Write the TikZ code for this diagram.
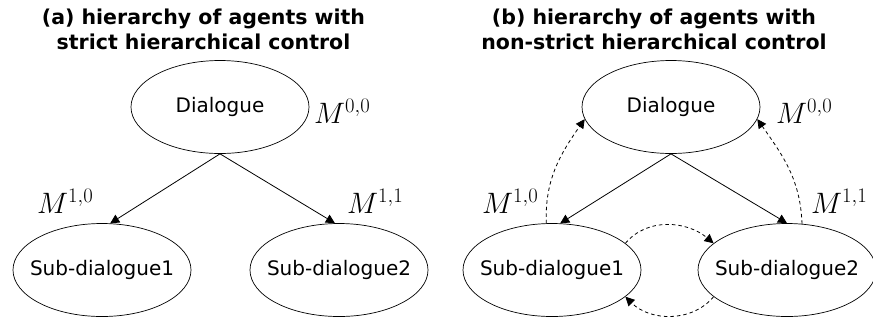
\RequirePackage{fix-cm}
\documentclass[tikz,border=0pt]{standalone}
\usepackage{fontspec}
\setmainfont{DejaVu Sans}
\usetikzlibrary{arrows.meta,shapes.geometric}
\tikzset{agent/.style={draw,ellipse,line width=0.7pt,inner xsep=-30pt,inner ysep=0pt,minimum width=178pt,minimum height=93pt,font=\fontsize{20}{24}\selectfont},title/.style={align=center,font=\bfseries\fontsize{20.5}{25}\selectfont},lab/.style={inner sep=0pt,anchor=base west,font=\fontsize{29.5}{30}\selectfont},arrow/.style={-{Triangle[length=9pt,width=9pt]},line width=0.8pt},msg/.style={arrow,dashed,dash pattern=on 3.5pt off 3pt}}

\begin{document}
\begin{tikzpicture}[x=1pt,y=-1pt]
\useasboundingbox (0,0) rectangle (873,325);
% (a) strict control
\node[title] (titleA) at (203.5,29) {(a) hierarchy of agents with\\strict hierarchical control};
\node[agent] (dlgA) at (220,107) {Dialogue};
\node[agent] (subA1) at (102,270) {Sub-dialogue1};
\node[agent] (subA2) at (339,270) {Sub-dialogue2};
\node[lab] (mA00) at (314,123) {$M^{0,0}$};
\node[lab] (mA10) at (37,213) {$M^{1,0}$};
\node[lab] (mA11) at (347,213) {$M^{1,1}$};
\draw[arrow] (dlgA.south) -- (subA1.80);
\draw[arrow] (dlgA.south) -- (subA2.95);
% (b) non-strict control
\node[title] (titleB) at (654,29) {(b) hierarchy of agents with\\non-strict hierarchical control};
\node[agent] (dlgB) at (671,107) {Dialogue};
\node[agent] (subB1) at (552,270) {Sub-dialogue1};
\node[agent] (subB2) at (787,270) {Sub-dialogue2};
\node[lab] (mB00) at (776,123) {$M^{0,0}$};
\node[lab] (mB10) at (482,213) {$M^{1,0}$};
\node[lab] (mB11) at (811,213) {$M^{1,1}$};
\draw[arrow] (dlgB.south) -- (subB1.80);
\draw[arrow] (dlgB.south) -- (subB2.north);
\draw[msg] (subB1.97) to[out=92,in=235] (dlgB.188);
\draw[msg] (subB2.72) to[out=92,in=-55] (dlgB.-8);
\draw[msg] (subB1.20) to[out=50,in=140] (subB2.160);
\draw[msg] (subB2.200) to[out=-130,in=-45] (subB1.-20);
\end{tikzpicture}
\end{document}
